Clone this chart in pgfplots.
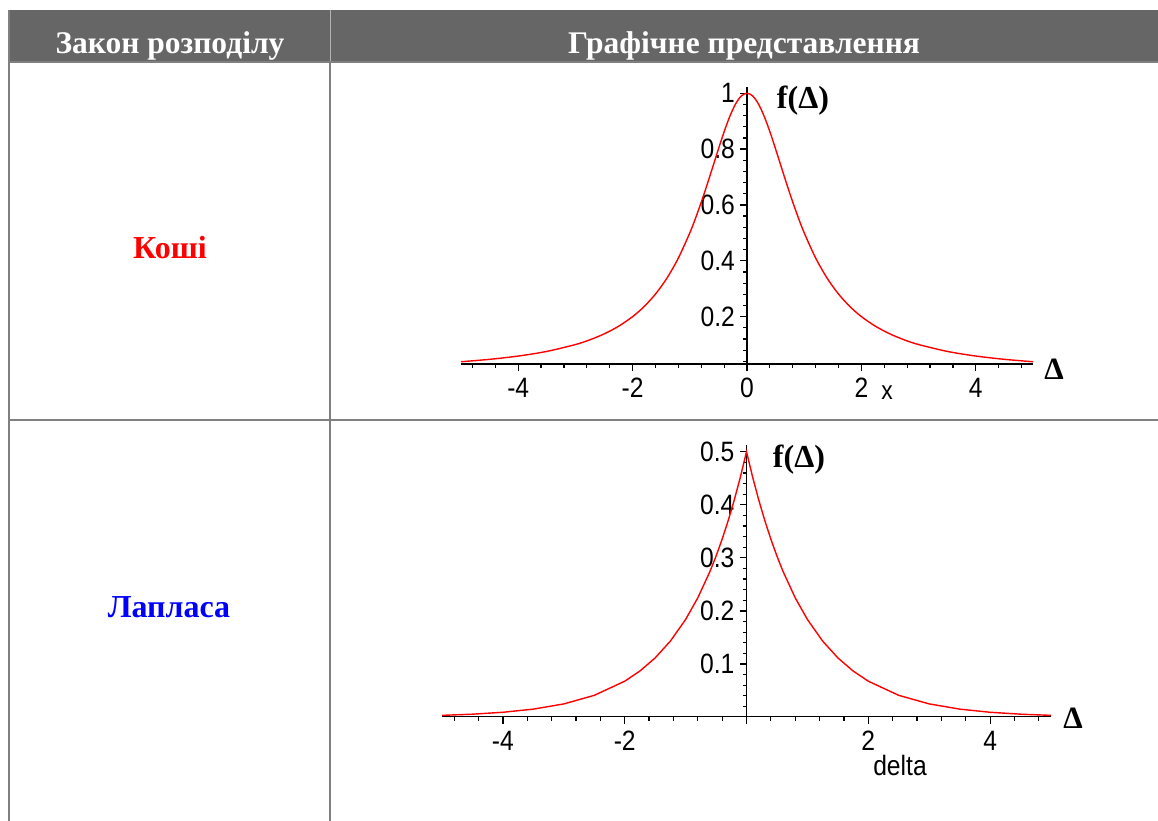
\documentclass[border=0pt]{standalone}
\usepackage{pgfplots}
\pgfplotsset{compat=1.18}
\usepackage{fontspec}
\setmainfont{Liberation Serif}
\newfontfamily\sans{Liberation Sans}
\newfontfamily\ticksans[FakeStretch=0.88]{Liberation Sans}
\definecolor{hdr}{RGB}{102,102,102}
\definecolor{rule}{RGB}{128,128,128}

\pgfplotsset{
  maple/.style={
    scale only axis,
    anchor=south west,
    axis x line=bottom,
    axis y line=center,
    axis line style={-, black, line width=1.5pt},
    xmin=-5, xmax=5,
    xtick={-4,-2,0,2,4},
    minor xtick={-4.8,-4.4,...,4.9},
    tick align=outside,
    major tick length=7pt,
    minor tick length=4pt,
    every tick/.style={black, line width=1.2pt},
    tick label style={font=\ticksans\fontsize{28}{28}\selectfont},
    yticklabel style={anchor=east, inner sep=1pt, xshift=-4pt},
    xticklabel style={anchor=north, inner sep=3pt, yshift=-4pt},
    clip=false,
  },
}

% Cauchy density 1/(1+x^2)
\pgfplotstableread{
x f
-5.0 0.038462
-4.5 0.047059
-4.0 0.058824
-3.5 0.075472
-3.0 0.100000
-2.75 0.116788
-2.5 0.137931
-2.25 0.164948
-2.0 0.200000
-1.8 0.235849
-1.6 0.280899
-1.4 0.337838
-1.2 0.409836
-1.0 0.500000
-0.9 0.552486
-0.8 0.609756
-0.7 0.671141
-0.6 0.735294
-0.5 0.800000
-0.4 0.862069
-0.3 0.917431
-0.2 0.961538
-0.1 0.990099
0.0 1.000000
0.1 0.990099
0.2 0.961538
0.3 0.917431
0.4 0.862069
0.5 0.800000
0.6 0.735294
0.7 0.671141
0.8 0.609756
0.9 0.552486
1.0 0.500000
1.2 0.409836
1.4 0.337838
1.6 0.280899
1.8 0.235849
2.0 0.200000
2.25 0.164948
2.5 0.137931
2.75 0.116788
3.0 0.100000
3.5 0.075472
4.0 0.058824
4.5 0.047059
5.0 0.038462
}\cauchy

% Laplace density 0.5*exp(-|x|)
\pgfplotstableread{
x f
-5.0 0.003369
-4.5 0.005554
-4.0 0.009158
-3.5 0.015099
-3.0 0.024894
-2.5 0.041042
-2.0 0.067668
-1.75 0.086887
-1.5 0.111565
-1.25 0.143252
-1.0 0.183940
-0.8 0.224664
-0.6 0.274406
-0.5 0.303265
-0.4 0.335160
-0.3 0.370409
-0.2 0.409365
-0.1 0.452419
0.0 0.500000
0.1 0.452419
0.2 0.409365
0.3 0.370409
0.4 0.335160
0.5 0.303265
0.6 0.274406
0.8 0.224664
1.0 0.183940
1.25 0.143252
1.5 0.111565
1.75 0.086887
2.0 0.067668
2.5 0.041042
3.0 0.024894
3.5 0.015099
4.0 0.009158
4.5 0.005554
5.0 0.003369
}\laplace

\begin{document}
\begin{tikzpicture}
\useasboundingbox (0pt,0pt) rectangle (1158pt,820pt);
\begin{scope}
\clip (0pt,0pt) rectangle (1158pt,820pt);
% table header
\fill[hdr] (9pt,810pt) rectangle (1160pt,758pt);
\draw[rule!60!white, line width=1pt] (330pt,810pt) -- (330pt,758pt);
% table rules
\draw[rule, line width=2pt] (9pt,810pt) -- (9pt,-5pt);
\draw[rule, line width=2pt] (330pt,758pt) -- (330pt,-5pt);
\draw[rule, line width=2pt] (8pt,758pt) -- (1160pt,758pt);
\draw[rule, line width=2pt] (8pt,400pt) -- (1160pt,400pt);
\end{scope}

\node[text=white, font=\bfseries\fontsize{31.5}{31.5}\selectfont] at (170pt,774pt) {Закон розподілу};
\node[text=white, font=\bfseries\fontsize{31.5}{31.5}\selectfont] at (744pt,774pt) {Графічне представлення};
\node[text=red, font=\bfseries\fontsize{32}{32}\selectfont] at (170pt,572pt) {Коші};
\node[text=blue, font=\bfseries\fontsize{32}{32}\selectfont] at (169pt,213pt) {Лапласа};

% Cauchy
\begin{axis}[maple,
  at={(461pt,455.9pt)},
  width=572pt, height=277.3pt,
  ymin=0.03, ymax=1.023,
  xticklabels={-4,-2,0,2,4},
  ytick={0.2,0.4,0.6,0.8,1},
  yticklabels={0.2,0.4,0.6,0.8,1},
  minor ytick={0.04,0.08,...,1.01},
]
\addplot[red, line width=1.4pt, smooth] table[x=x, y=f] {\cauchy};
\end{axis}

% Laplace
\begin{axis}[maple,
  at={(442pt,103.4pt)},
  width=609pt, height=271.3pt,
  ymin=0.001, ymax=0.512,
  xticklabels={-4,-2,{},2,4},
  ytick={0.1,0.2,0.3,0.4,0.5},
  yticklabels={0.1,0.2,0.3,0.4,0.5},
  minor ytick={0.02,0.04,...,0.51},
]
\addplot[red, line width=1.4pt] table[x=x, y=f] {\laplace};
\end{axis}

% axis captions
\node[font=\bfseries\fontsize{32}{32}\selectfont] at (803pt,719pt) {f(Δ)};
\node[font=\bfseries\fontsize{31}{31}\selectfont] at (1054pt,451pt) {Δ};
\node[font=\ticksans\fontsize{26}{26}\selectfont] at (887pt,427pt) {x};
\node[font=\bfseries\fontsize{32}{32}\selectfont] at (799pt,360pt) {f(Δ)};
\node[font=\bfseries\fontsize{31}{31}\selectfont] at (1073pt,102pt) {Δ};
\node[font=\ticksans\fontsize{28}{28}\selectfont] at (900pt,55pt) {delta};
\end{tikzpicture}
\end{document}
